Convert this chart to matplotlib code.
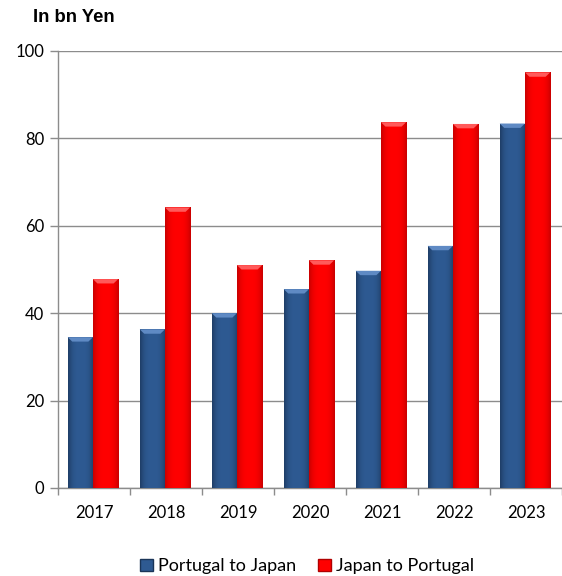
import numpy as np
import matplotlib.pyplot as plt
from matplotlib.patches import Patch, Polygon
from matplotlib.colors import to_rgb

years = ["2017", "2018", "2019", "2020", "2021", "2022", "2023"]
pt_to_jp = [34.5, 36.3, 40.0, 45.5, 49.7, 55.4, 83.4]
jp_to_pt = [47.8, 64.2, 51.0, 52.1, 83.7, 83.3, 95.1]

blue_edge, blue_mid, blue_top = "#1E3D66", "#2E5A92", "#5F8AC4"
red_edge, red_mid, red_top = "#C80000", "#FF0000", "#FF5A5A"


def shade_bars(ax, bars, edge, mid, top):
    # horizontal gradient clipped to every bar + a light bevel on top
    t = np.linspace(-1, 1, 64)
    w = np.abs(t) ** 3
    c_edge, c_mid = np.array(to_rgb(edge)), np.array(to_rgb(mid))
    img = (c_mid[None, :] * (1 - w[:, None]) + c_edge[None, :] * w[:, None])[None, :, :]
    for b in bars:
        x0, y0 = b.get_x(), b.get_y()
        bw, bh = b.get_width(), b.get_height()
        im = ax.imshow(img, extent=(x0, x0 + bw, y0, y0 + bh), aspect="auto",
                       interpolation="bilinear", zorder=3)
        im.set_clip_path(b)
        bev = 1.0
        inset = bw * 0.18
        ax.add_patch(Polygon([(x0, y0 + bh), (x0 + bw, y0 + bh),
                              (x0 + bw - inset, y0 + bh - bev), (x0 + inset, y0 + bh - bev)],
                             closed=True, facecolor=top, edgecolor="none", zorder=4))


plt.rcParams["font.family"] = ["Lato", "DejaVu Sans"]

fig = plt.figure(figsize=(5.62, 5.76), dpi=100)
ax = fig.add_axes([0.1032, 0.1528, 0.8968, 0.7587])

x = np.arange(len(years))
bw = 0.35
b1 = ax.bar(x - bw / 2 - 0.015, pt_to_jp, bw, color=blue_mid, zorder=3,
            edgecolor="#1A3558", linewidth=0.6)
b2 = ax.bar(x + bw / 2 - 0.015, jp_to_pt, bw, color=red_mid, zorder=3,
            edgecolor="#B00000", linewidth=0.6)
shade_bars(ax, b1, blue_edge, blue_mid, blue_top)
shade_bars(ax, b2, red_edge, red_mid, red_top)

ax.set_xlim(-0.5, len(years) - 0.5)
ax.set_ylim(0, 100)
ax.set_yticks([0, 20, 40, 60, 80, 100])
ax.set_xticks(x)
ax.set_xticklabels(years, fontsize=12)
ax.tick_params(axis="y", labelsize=12, length=6, color="#8C8C8C", width=1, pad=4)
ax.tick_params(axis="x", length=0, pad=12)
ax.set_xticks(np.arange(-0.5, len(years)), minor=True)
ax.tick_params(axis="x", which="minor", length=5, color="#8C8C8C", width=1)

ax.grid(axis="y", color="#8C8C8C", linewidth=1, zorder=1)
ax.set_axisbelow(True)
for s in ["top", "right"]:
    ax.spines[s].set_visible(False)
for s in ["left", "bottom"]:
    ax.spines[s].set_color("#8C8C8C")
    ax.spines[s].set_linewidth(1)

fig.text(0.059, 0.969, "In bn Yen", fontsize=13.3, fontweight="bold", va="center", ha="left",
         family=["Liberation Sans", "DejaVu Sans"])

handles = [Patch(facecolor=blue_mid, edgecolor="#1A3558"),
           Patch(facecolor=red_mid, edgecolor="#B00000")]
fig.legend(handles, ["Portugal to Japan", "Japan to Portugal"], loc="center",
           bbox_to_anchor=(0.547, 0.017), ncol=2, frameon=False, fontsize=13,
           handlelength=0.7, handleheight=0.7, handletextpad=0.3, columnspacing=1.2)

fig.savefig("out.png", dpi=100)
